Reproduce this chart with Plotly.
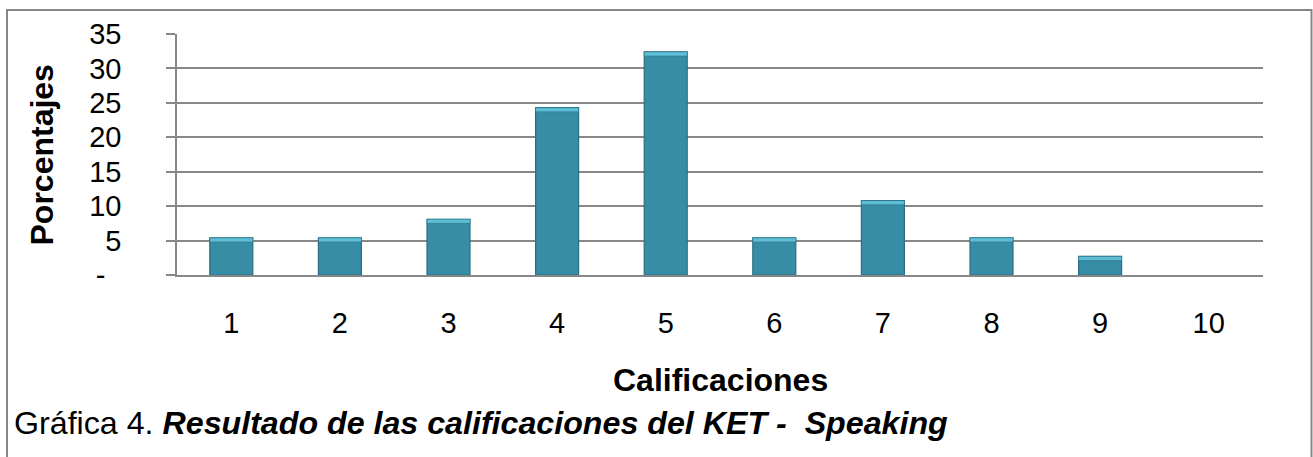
import plotly.graph_objects as go

# ---- data ----
categories = ["1", "2", "3", "4", "5", "6", "7", "8", "9", "10"]
percentages = [5.4, 5.4, 8.1, 24.3, 32.4, 5.4, 10.8, 5.4, 2.7, 0]
y_tick_values = [0, 5, 10, 15, 20, 25, 30, 35]
y_tick_labels = ["-\u00a0\u00a0", "5", "10", "15", "20", "25", "30", "35"]

x_title = "Calificaciones"
y_title = "Porcentajes"
caption = "Gráfica 4. <b><i>Resultado de las calificaciones del KET -\u00a0 Speaking</i></b>"

FONT = "Liberation Sans, Arial, sans-serif"
GRID = "#888888"
BAR = "#378DA5"
BAR_EDGE = "#2A6F84"
BAR_TOP = "#5DBED6"

# plot-area geometry (pixels) used for placing annotations
L, R, T, B = 177, 50, 34, 182
W, H = 1313, 457
PW, PH = W - L - R, H - T - B


def px_x(px):
    return (px - L) / PW


def px_y(py):
    return (H - B - py) / PH


highlight_h = 0.6
highlight_base = [v - highlight_h if v > highlight_h else None for v in percentages]
highlight_len = [highlight_h if v > highlight_h else None for v in percentages]
edge_widths = [1.2 if v > 0 else 0 for v in percentages]

fig = go.Figure()
fig.add_trace(go.Bar(
    x=categories, y=percentages,
    marker=dict(color=BAR, line=dict(color=BAR_EDGE, width=edge_widths)),
    hoverinfo="x+y", showlegend=False,
))
fig.add_trace(go.Bar(
    x=categories, y=highlight_len, base=highlight_base,
    marker=dict(color=BAR_TOP, line=dict(color=BAR_EDGE, width=0.5)),
    hoverinfo="skip", showlegend=False,
))

fig.update_layout(
    width=W, height=H, autosize=False,
    margin=dict(l=L, r=R, t=T, b=B, pad=0),
    paper_bgcolor="white", plot_bgcolor="white",
    barmode="overlay", bargap=0.604,
    font=dict(family=FONT, color="black"),
    showlegend=False,
)

fig.update_xaxes(
    type="category", range=[-0.5, 9.5],
    showgrid=False, zeroline=False,
    showline=True, linecolor=GRID, linewidth=1.5,
    ticks="", tickfont=dict(size=29, family=FONT, color="black"),
    ticklabelstandoff=21,
)
fig.update_yaxes(
    range=[0, 35], tickvals=y_tick_values, ticktext=y_tick_labels,
    showgrid=True, gridcolor=GRID, gridwidth=1.5,
    zeroline=False, showline=True, linecolor=GRID, linewidth=1.5,
    ticks="outside", ticklen=9, tickcolor=GRID, tickwidth=1.5,
    tickfont=dict(size=29, family=FONT, color="black"),
    ticklabelstandoff=39,
)

fig.add_annotation(
    text=f"<b>{y_title}</b>", xref="paper", yref="paper",
    x=px_x(41), y=0.5, textangle=-90, showarrow=False,
    xanchor="center", yanchor="middle",
    font=dict(size=32, family=FONT, color="black"),
)
fig.add_annotation(
    text=f"<b>{x_title}</b>", xref="paper", yref="paper",
    x=px_x(720), y=px_y(380), showarrow=False,
    xanchor="center", yanchor="middle",
    font=dict(size=32, family=FONT, color="black"),
)
fig.add_annotation(
    text=caption, xref="paper", yref="paper",
    x=px_x(12), y=px_y(423), showarrow=False,
    xanchor="left", yanchor="middle",
    font=dict(size=32.2, family=FONT, color="black"),
)

# outer chart frame
fig.add_shape(
    type="rect", xref="paper", yref="paper",
    x0=px_x(7), x1=px_x(1311.5), y0=px_y(480), y1=px_y(10),
    line=dict(color="#878787", width=2), fillcolor="rgba(0,0,0,0)", layer="below",
)

fig.write_html(
    "out.html",
    config={"displayModeBar": False},
    post_script="document.body.style.margin='0';document.body.style.overflow='hidden';",
)
